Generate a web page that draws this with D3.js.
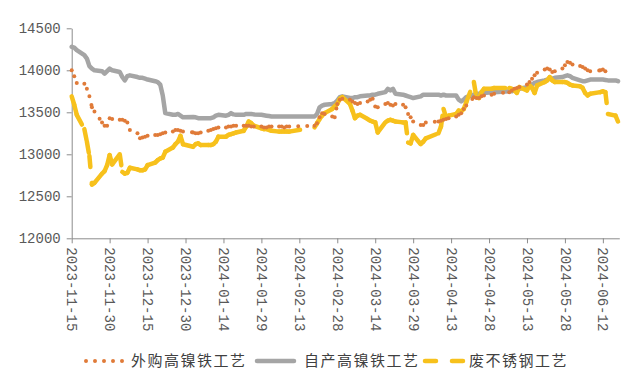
<!DOCTYPE html>
<html>
<head>
<meta charset="utf-8">
<script src="https://cdn.jsdelivr.net/npm/d3@7"></script>
<style>
  html, body { margin: 0; padding: 0; background: #fff; }
  svg { display: block; }
</style>
</head>
<body>
<svg id="chart" width="633" height="390"></svg>
<script>
// ---------------- DATA ----------------
const startDate = "2023-11-15";
const endDate = "2024-06-18";
// non-trading weekdays (holidays) skipped by the source series
const holidays = ["2024-01-01","2024-02-12","2024-02-13","2024-02-14","2024-02-15","2024-02-16",
  "2024-04-04","2024-04-05","2024-05-01","2024-05-02","2024-05-03","2024-06-10"];

const tickLabels = ["2023-11-15","2023-11-30","2023-12-15","2023-12-30","2024-01-14","2024-01-29",
  "2024-02-13","2024-02-28","2024-03-14","2024-03-29","2024-04-13","2024-04-28","2024-05-13",
  "2024-05-28","2024-06-12"];
const yTicks = [12000, 12500, 13000, 13500, 14000, 14500];

const seriesNames = ["外购高镍铁工艺", "自产高镍铁工艺", "废不锈钢工艺"];

// 外购高镍铁工艺 (one value per trading day)
const purchasedNPI = [
  14000,13930,13850,
  13840,13780,13690,13560,13510,
  13380,13340,13340,13430,13420,
  13410,13410,13400,13380,13290,
  13250,13190,13200,13210,13220,
  13230,13230,13240,13250,13260,
  13270,13290,13290,13280,13270,
  13260,13250,13250,13260,
  13280,13290,13300,13310,13320,
  13320,13330,13330,13340,13340,
  13340,13340,13340,13330,13330,
  13330,13320,13320,13330,13330,
  13330,13330,13320,13330,13330,
  13340,13370,13440,13490,13480,
  13450,13440,13600,13650,13660,
  13650,13630,13610,13600,13610,
  13630,13650,13660,13570,13560,
  13600,13610,13590,13580,13600,
  13590,13560,13480,13440,13390,
  13350,13350,13380,
  13390,13400,13410,13420,13430,
  13450,13470,13490,13540,13580,
  13680,13670,13670,13690,13700,
  13710,13720,
  13740,13760,13780,13790,13800,
  13830,13860,13900,13940,13970,
  14010,14020,14010,13980,13990,
  14020,14060,14100,14090,14070,
  14050,14040,14020,14000,13990,
  14000,14010,13990,13920,
  null,null
];

// 自产高镍铁工艺
const ownNPI = [
  14280,14270,14240,
  14180,14140,14050,14020,14000,
  13990,13960,13990,14020,14000,
  13980,13920,13880,13930,13940,
  13920,13910,13910,13900,13890,
  13870,13860,13830,13700,13490,
  13470,13470,13480,13460,13440,
  13445,13440,13430,13430,
  13430,13430,13440,13460,13470,
  13460,13470,13490,13475,13470,
  13470,13480,13480,13480,13475,
  13470,13465,13460,13455,13450,
  13450,13450,13450,13450,13450,
  13450,13480,13560,13580,13590,
  13600,13610,13640,13680,13690,
  13670,13670,13680,13680,13690,
  13700,13700,13710,13710,13720,
  13740,13780,13760,13780,13720,
  13710,13700,13690,13680,13670,
  13690,13710,13710,
  13710,13700,13710,13700,13700,
  13700,13650,13630,13650,13680,
  13710,13720,13720,13725,13730,
  13740,13740,
  13750,13750,13760,13770,13780,
  13800,13810,13830,13850,13860,
  13880,13890,13900,13900,13910,
  13920,13930,13940,13930,13910,
  13880,13870,13870,13880,13890,
  13890,13890,13885,13880,
  13880,13870
];

// 废不锈钢工艺
const scrapSteel = [
  13690,13590,13470,
  13300,13150,12980,12640,12660,
  12770,12800,12870,12990,12880,
  13000,12790,12770,12780,12840,
  12820,12810,12810,12820,12870,
  12900,12930,12950,12960,13030,
  13080,13120,13150,13220,13120,
  13090,13120,13130,13110,
  13110,13110,13120,13150,13210,
  13210,13230,13240,13250,13260,
  13280,13330,13390,13370,13340,
  13310,13300,13300,13290,13280,
  13270,13270,13270,13270,13270,
  13320,13370,13420,13460,13490,
  13540,13570,13600,13660,13680,
  13600,13520,13430,13460,13470,
  13420,13400,13390,13380,13260,
  13380,13400,13410,13400,13390,
  13380,13380,13140,13130,13230,
  13120,13150,13190,
  13250,13330,13540,13440,13460,
  13480,13520,13510,13540,13620,
  13860,13680,13670,13740,13780,
  13780,13790,
  13790,13780,13760,13730,13800,
  13760,13820,13790,13730,13820,
  13860,13880,13920,13880,13860,
  13860,13860,13850,13830,13820,
  13810,13790,13730,13700,13720,
  13740,13750,13740,13480,
  13460,13390
];

// ---------------- BUILD ----------------
const parse = d3.utcParse("%Y-%m-%d");
function tradingDays(start, end, skip) {
  const out = [];
  const e = parse(end);
  for (let d = parse(start); d <= e; d = d3.utcDay.offset(d, 1)) {
    const w = d.getUTCDay();
    const s = d3.utcFormat("%Y-%m-%d")(d);
    if (w !== 0 && w !== 6 && !skip.includes(s)) out.push(d);
  }
  return out;
}
const dates = tradingDays(startDate, endDate, holidays);

const svg = d3.select("#chart");
const plotL = 71.7, plotR = 619.3, plotT = 28.3, plotB = 238.3;

const x = d3.scaleUtc()
  .domain([parse(startDate), d3.utcHour.offset(parse(endDate), 12)])
  .range([plotL, plotR]);
const y = d3.scaleLinear().domain([12000, 14500]).range([plotB, plotT]);

const axisColor = "#8c8c8c";
const labelColor = "#595959";
const monoFont = "'Liberation Mono', 'DejaVu Sans Mono', monospace";

// Y axis
const yAxis = svg.append("g").attr("transform", `translate(${plotL},0)`)
  .call(d3.axisLeft(y).tickValues(yTicks).tickSize(5).tickSizeOuter(0).tickPadding(6).tickFormat(d3.format("d")));
yAxis.select(".domain").attr("stroke", axisColor);
yAxis.selectAll(".tick line").attr("stroke", axisColor);
yAxis.selectAll(".tick text").attr("fill", labelColor)
  .style("font-family", monoFont).style("font-size", "14px");

// X axis
const xAxis = svg.append("g").attr("transform", `translate(0,${plotB})`)
  .call(d3.axisBottom(x).tickValues(tickLabels.map(parse)).tickSize(5).tickSizeOuter(0)
    .tickFormat((d, i) => tickLabels[i]));
xAxis.select(".domain").attr("stroke", axisColor);
xAxis.selectAll(".tick line").attr("stroke", axisColor);
xAxis.selectAll(".tick text")
  .attr("fill", labelColor)
  .style("font-family", monoFont).style("font-size", "14px")
  .attr("text-anchor", "start")
  .attr("transform", "rotate(90)")
  .attr("x", 9).attr("y", 0).attr("dy", "0.35em");

// Series
const orange = "#e07b39", grey = "#a5a5a5", gold = "#f7c11c";
const series = [
  { name: seriesNames[1], values: ownNPI, color: grey, width: 4.5, dash: null },
  { name: seriesNames[2], values: scrapSteel, color: gold, width: 4.5, dash: "11,16" },
  { name: seriesNames[0], values: purchasedNPI, color: orange, width: 4, dash: "0,9" }
];

series.forEach(s => {
  const pts = dates.map((d, i) => ({ d, v: s.values[i] })).filter(p => p.v != null);
  if (!s.dash) {
    const line = d3.line().x(p => x(p.d)).y(p => y(p.v));
    svg.append("path").datum(pts)
      .attr("fill", "none").attr("stroke", s.color).attr("stroke-width", s.width)
      .attr("stroke-linejoin", "round").attr("stroke-linecap", "round")
      .attr("d", line);
  } else {
    // dash pattern restarts on every segment between two data points
    const segs = d3.pairs(pts);
    svg.append("g").selectAll("line").data(segs).join("line")
      .attr("x1", p => x(p[0].d)).attr("y1", p => y(p[0].v))
      .attr("x2", p => x(p[1].d)).attr("y2", p => y(p[1].v))
      .attr("stroke", s.color).attr("stroke-width", s.width)
      .attr("stroke-linecap", "round").attr("stroke-dasharray", s.dash);
  }
});

// Legend
const legendY = 361;
const legendItems = [
  { name: seriesNames[0], color: orange, width: 4, dash: "0,9", x1: 86, x2: 124, tx: 131 },
  { name: seriesNames[1], color: grey, width: 4.5, dash: null, x1: 257, x2: 294, tx: 304 },
  { name: seriesNames[2], color: gold, width: 4.5, dash: "11,16", x1: 425, x2: 463, tx: 469 }
];
const lg = svg.append("g");
legendItems.forEach(it => {
  lg.append("line").attr("x1", it.x1).attr("x2", it.x2).attr("y1", legendY).attr("y2", legendY)
    .attr("stroke", it.color).attr("stroke-width", it.width).attr("stroke-linecap", "round")
    .attr("stroke-dasharray", it.dash);
  lg.append("text").attr("x", it.tx).attr("y", legendY).attr("dy", "0.36em")
    .attr("fill", "#404040")
    .style("font-family", "'Noto Sans CJK SC', sans-serif").style("font-size", "15px")
    .style("letter-spacing", "1.5px")
    .text(it.name);
});
</script>
</body>
</html>
